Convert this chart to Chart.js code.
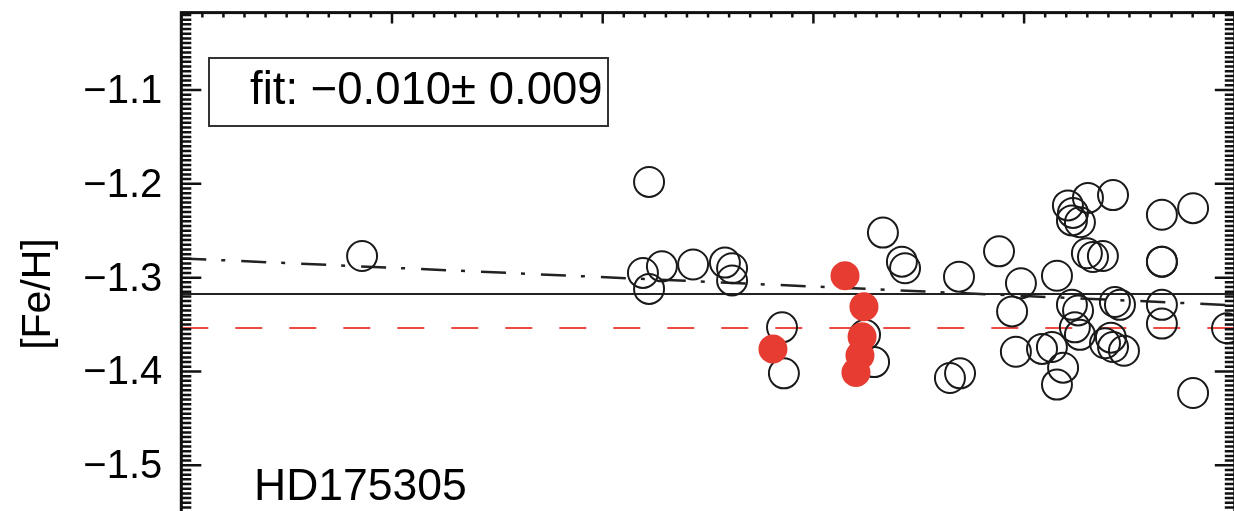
<!DOCTYPE html>
<html>
<head>
<meta charset="utf-8">
<script src="https://cdn.jsdelivr.net/npm/chart.js@4.4.1/dist/chart.umd.min.js"></script>
<style>
  html, body { margin: 0; padding: 0; overflow: hidden; background: #ffffff; }
  #wrap { width: 1250px; height: 600px; }
</style>
</head>
<body>
<div id="wrap"><canvas id="c" width="1250" height="600"></canvas></div>
<script>
// Fe I lines: lower excitation potential (eV) and derived [Fe/H]
const feIExcitation = [
  0.858, 2.220, 2.191, 2.220, 2.281, 2.429, 2.580, 2.614, 2.614, 2.851,
  2.860, 3.245, 3.288, 3.330, 3.420, 3.435, 3.691, 3.648, 3.696, 3.881,
  3.985, 3.943, 3.961, 4.085, 4.132, 4.156, 4.185, 4.156, 4.208, 4.232,
  4.227, 4.265, 4.303, 4.422, 4.298, 4.327, 4.374, 4.227, 4.256, 4.241,
  4.265, 4.455, 4.431, 4.384, 4.412, 4.422, 4.474, 4.654, 4.654, 4.654,
  4.802, 4.654, 4.654, 4.802, 4.963
];
const feIAbundance = [
  -1.277, -1.198, -1.295, -1.312, -1.288, -1.286, -1.284, -1.290, -1.303, -1.353,
  -1.402, -1.361, -1.390, -1.252, -1.283, -1.290, -1.299, -1.407, -1.402, -1.272,
  -1.306, -1.336, -1.379, -1.376, -1.374, -1.298, -1.396, -1.414, -1.223, -1.231,
  -1.239, -1.241, -1.215, -1.212, -1.274, -1.278, -1.277, -1.329, -1.335, -1.353,
  -1.361, -1.329, -1.326, -1.370, -1.364, -1.374, -1.378, -1.283, -1.283, -1.233,
  -1.226, -1.329, -1.349, -1.423, -1.354
];

// Fe II lines
const feIIExcitation = [2.808, 3.150, 3.240, 3.231, 3.221, 3.202];
const feIIAbundance  = [-1.376, -1.298, -1.331, -1.363, -1.383, -1.401];

// Reference levels and the trend fit of [Fe/H] against excitation potential
const meanFeI = -1.3175;
const meanFeII = -1.3537;
const fitIntercept = -1.2795;
const fitSlope = -0.010;
const fitError = 0.009;
const starName = 'HD175305';

// Axis ranges and labelled ticks
const xRange = [0, 5];
const yRange = [-1.6175, -1.0175];
const yTickValues = [-1.5, -1.4, -1.3, -1.2, -1.1];

const FONT = '"Liberation Sans", Arial, Helvetica, sans-serif';
const minus = v => (v < 0 ? '\u2212' : '') + Math.abs(v).toFixed(1);

const toPoints = (xs, ys) => xs.map((x, i) => ({ x: x, y: ys[i] }));
const levelLine = v => xRange.map(x => ({ x: x, y: v }));
const fitLine = xRange.map(x => ({ x: x, y: fitIntercept + fitSlope * x }));

// Inward-pointing tick marks, frame and text annotations
const framePlugin = {
  id: 'frame',
  afterDatasetsDraw(chart) {
    const { ctx, chartArea: a, scales: { x, y } } = chart;
    ctx.save();
    ctx.strokeStyle = '#111111';
    ctx.lineWidth = 2.5;
    ctx.beginPath();
    const k0 = Math.ceil(y.min / 0.005 - 1e-6);
    const k1 = Math.floor(y.max / 0.005 + 1e-6);
    for (let k = k0; k <= k1; k++) {
      const py = y.getPixelForValue(k * 0.005);
      const len = (Math.abs(k) % 20 === 0) ? 20 : 10;
      ctx.moveTo(a.left, py);  ctx.lineTo(a.left + len, py);
      ctx.moveTo(a.right, py); ctx.lineTo(a.right - len, py);
    }
    for (let k = 0; k <= 50; k++) {
      const px = x.getPixelForValue(k / 10);
      const len = (k % 10 === 0) ? 11 : 5;
      ctx.moveTo(px, a.top); ctx.lineTo(px, a.top + len);
    }
    ctx.stroke();
    ctx.lineWidth = 3;
    ctx.strokeRect(a.left, a.top, a.right - a.left, a.bottom - a.top);

    // fit annotation box
    ctx.lineWidth = 2;
    ctx.strokeStyle = '#333333';
    ctx.strokeRect(209, 58, 399, 68);
    ctx.fillStyle = '#000000';
    ctx.textBaseline = 'alphabetic';
    ctx.textAlign = 'left';
    ctx.font = '45.5px ' + FONT;
    const slopeText = (fitSlope < 0 ? '\u2212' : '') + Math.abs(fitSlope).toFixed(3);
    ctx.fillText('fit: ' + slopeText + '\u00b1 ' + fitError.toFixed(3), 250, 104);

    // star name
    ctx.font = '44.5px ' + FONT;
    ctx.fillText(starName, 254, 500);
    ctx.restore();
  }
};

new Chart(document.getElementById('c'), {
  data: {
    datasets: [
      {
        type: 'scatter',
        label: 'Fe II',
        data: toPoints(feIIExcitation, feIIAbundance),
        pointRadius: 14.5,
        pointBorderWidth: 0,
        pointBackgroundColor: '#e63c32',
        pointBorderColor: '#e63c32',
        order: 0
      },
      {
        type: 'scatter',
        label: 'Fe I',
        data: toPoints(feIExcitation, feIAbundance),
        pointRadius: 15,
        pointBorderWidth: 2,
        pointBackgroundColor: 'rgba(0,0,0,0)',
        pointBorderColor: '#1a1a1a',
        order: 1
      },
      {
        type: 'line',
        label: 'mean Fe I',
        data: levelLine(meanFeI),
        borderColor: '#222222',
        borderWidth: 2,
        pointRadius: 0,
        order: 2
      },
      {
        type: 'line',
        label: 'mean Fe II',
        data: levelLine(meanFeII),
        borderColor: '#ee4a44',
        borderWidth: 2,
        borderDash: [27, 27],
        pointRadius: 0,
        order: 3
      },
      {
        type: 'line',
        label: 'fit',
        data: fitLine,
        borderColor: '#222222',
        borderWidth: 2.5,
        borderDash: [25, 15, 4, 16],
        pointRadius: 0,
        order: 4
      }
    ]
  },
  options: {
    responsive: false,
    animation: false,
    devicePixelRatio: 1,
    layout: { autoPadding: false, padding: { left: 0, right: 15.2, top: 12.6, bottom: 24.5 } },
    plugins: { legend: { display: false }, tooltip: { enabled: false } },
    scales: {
      x: {
        type: 'linear',
        min: xRange[0],
        max: xRange[1],
        display: false
      },
      y: {
        type: 'linear',
        position: 'left',
        min: yRange[0],
        max: yRange[1],
        afterBuildTicks: scale => { scale.ticks = yTickValues.map(v => ({ value: v })); },
        afterFit: scale => {
          scale.width = 181.3;
          scale.paddingTop = 0;
          scale.paddingBottom = 0;
        },
        grid: { display: false, drawTicks: false },
        border: { display: false },
        ticks: {
          color: '#000000',
          font: { family: FONT, size: 40 },
          padding: 19,
          labelOffset: 2,
          callback: v => minus(v)
        },
        title: {
          display: true,
          text: '[Fe/H]',
          color: '#000000',
          font: { family: FONT, size: 41 },
          padding: { top: 14, bottom: 0 }
        }
      }
    }
  },
  plugins: [framePlugin]
});
</script>
</body>
</html>
